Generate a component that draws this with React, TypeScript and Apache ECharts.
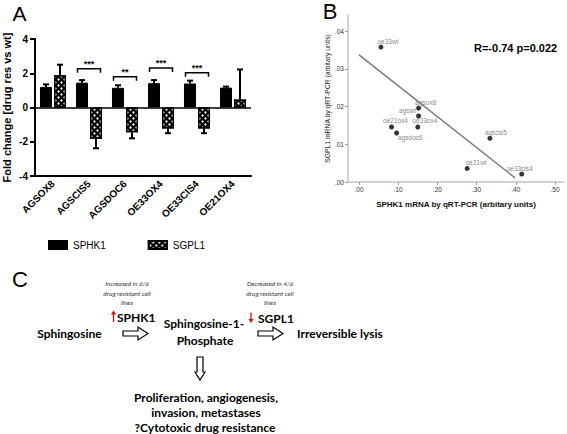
import React, { useEffect, useRef } from 'react';
import * as echarts from 'echarts';

// ---------- Panel A data ----------
const categories = ['AGSOX8', 'AGSCIS5', 'AGSDOC6', 'OE33OX4', 'OE33CIS4', 'OE21OX4'];
const sphk1Values = [1.2, 1.45, 1.15, 1.42, 1.4, 1.16];
const sphk1Errors = [0.15, 0.15, 0.15, 0.18, 0.17, 0.06];
const sgpl1Values = [1.88, -1.82, -1.45, -1.22, -1.22, 0.47];
const sgpl1Errors = [0.62, 0.56, 0.35, 0.28, 0.28, 1.75];
const sigIndex = [1, 2, 3, 4];
const sigLevel = [2.27, 1.8, 2.3, 2.03];
const sigLabel = ['***', '**', '***', '***'];
const yTicksA = [-4, -2, 0, 2, 4];

// ---------- Panel B data ----------
const cellLines = ['oe33wt', 'agsox8', 'agswt', 'oe21ox4', 'oe33ox4', 'agsdoc6', 'agscis5', 'oe21wt', 'oe33cis4'];
const sphk1Mrna = [0.056, 0.152, 0.152, 0.083, 0.15, 0.096, 0.334, 0.276, 0.415];
const sgpl1Mrna = [0.0358, 0.0196, 0.0175, 0.0146, 0.0146, 0.013, 0.0116, 0.0036, 0.0021];
const fitX = [0, 0.398];
const fitY = [0.0337, 0.0011];
const xTicksB = [0, 0.1, 0.2, 0.3, 0.4, 0.5];
const yTicksB = [0, 0.01, 0.02, 0.03, 0.04];
const statText = 'R=-0.74 p=0.022';

// label placement (layout only)
const labelLayout: Record<string, any> = {
  oe33wt: { position: 'top', offset: [7, 0] },
  agsox8: { position: 'top', offset: [7, 0] },
  agswt: { position: 'left', offset: [0, -6] },
  oe21ox4: { position: 'top', offset: [4, 0] },
  oe33ox4: { position: 'top', offset: [7, 0] },
  agsdoc6: { position: 'right', offset: [-1, 5] },
  agscis5: { position: 'top', offset: [6, 0] },
  oe21wt: { position: 'top', offset: [9, 0] },
  oe33cis4: { position: 'top', offset: [-2, 0] },
};

const ARIAL = 'Liberation Sans, Arial, sans-serif';
const CAL = 'Lato, Open Sans, sans-serif';

export default function App() {
  const ref = useRef<HTMLDivElement>(null);
  useEffect(() => {
    if (!ref.current) return;
    const chart = echarts.init(ref.current, undefined, { renderer: 'svg' });

    const errData = (vals: number[], errs: number[], side: number) =>
      vals.map((v, i) => [i, v, errs[i], side]);

    const errorRender = (params: any, api: any) => {
      const i = api.value(0);
      const v = api.value(1);
      const e = api.value(2);
      const side = api.value(3);
      const base = api.coord([i, v]);
      const tip = api.coord([i, v >= 0 ? v + e : v - e]);
      const x = base[0] + side * 7;
      return {
        type: 'group',
        children: [
          { type: 'line', shape: { x1: x, y1: base[1], x2: x, y2: tip[1] }, style: { stroke: '#000', lineWidth: 2 } },
          { type: 'line', shape: { x1: x - 3, y1: tip[1], x2: x + 3, y2: tip[1] }, style: { stroke: '#000', lineWidth: 2 } },
        ],
      };
    };

    const bracketRender = (params: any, api: any) => {
      const i = api.value(0);
      const lv = api.value(1);
      const p = api.coord([i, lv]);
      const x1 = p[0] - 11.5;
      const x2 = p[0] + 11.5;
      return {
        type: 'group',
        children: [
          {
            type: 'polyline',
            shape: { points: [[x1, p[1] + 4], [x1, p[1]], [x2, p[1]], [x2, p[1] + 4]] },
            style: { stroke: '#000', lineWidth: 1.5, fill: 'none' },
          },
          {
            type: 'text',
            x: p[0],
            y: p[1] - 5,
            style: { text: sigLabel[params.dataIndex], fill: '#000', font: `bold 9px ${ARIAL}`, align: 'center', verticalAlign: 'middle' },
          },
        ],
      };
    };

    const scatterData = cellLines.map((n, i) => ({
      name: n,
      value: [sphk1Mrna[i], sgpl1Mrna[i]],
      label: { ...labelLayout[n] },
    }));

    const t = (x: number, y: number, text: string, font: string, extra: any = {}) => ({
      type: 'text',
      x,
      y,
      style: { text, font, fill: '#000', align: 'center', verticalAlign: 'middle', ...extra },
    });

    const hArrow = (x0: number, x1: number, yc: number) => ({
      type: 'polygon',
      shape: {
        points: [
          [x0, yc - 2.5], [x1 - 10, yc - 2.5], [x1 - 10, yc - 6.5], [x1, yc],
          [x1 - 10, yc + 6.5], [x1 - 10, yc + 2.5], [x0, yc + 2.5],
        ],
      },
      style: { fill: '#fff', stroke: '#000', lineWidth: 1.2 },
    });
    const vArrow = (xc: number, y0: number, y1: number) => ({
      type: 'polygon',
      shape: {
        points: [
          [xc - 3, y0], [xc + 3, y0], [xc + 3, y1 - 8], [xc + 5, y1 - 8], [xc, y1],
          [xc - 5, y1 - 8], [xc - 3, y1 - 8],
        ],
      },
      style: { fill: '#fff', stroke: '#000', lineWidth: 1.2 },
    });
    // thin red arrow from (x, yFrom) to (x, yTo), head at yTo
    const redArrow = (x: number, yFrom: number, yTo: number) => {
      const dir = yTo > yFrom ? 1 : -1;
      return {
        type: 'group',
        children: [
          { type: 'line', shape: { x1: x, y1: yFrom, x2: x, y2: yTo - dir * 2 }, style: { stroke: '#e00', lineWidth: 1.3 } },
          {
            type: 'polygon',
            shape: { points: [[x, yTo], [x - 2.5, yTo - dir * 4], [x + 2.5, yTo - dir * 4]] },
            style: { fill: '#e00' },
          },
        ],
      };
    };

    const italic = `italic 6.5px ${CAL}`;
    const boldC = `bold 12px ${CAL}`;

    chart.setOption({
      animation: false,
      backgroundColor: '#fff',
      grid: [
        { left: 33, top: 39, width: 218, height: 137 },
        { left: 348, top: 15, width: 216, height: 167 },
      ],
      legend: {
        left: 43,
        top: 235,
        itemWidth: 18,
        itemHeight: 8,
        itemGap: 42,
        icon: 'rect',
        data: ['SPHK1', 'SGPL1'],
        textStyle: { fontFamily: ARIAL, fontSize: 10, color: '#000', padding: [0, 0, 0, 1] },
      },
      xAxis: [
        {
          type: 'category',
          gridIndex: 0,
          data: categories,
          boundaryGap: true,
          axisLine: { onZero: false, lineStyle: { color: '#000', width: 2 } },
          axisTick: { alignWithLabel: true, length: 4, lineStyle: { color: '#000', width: 2 } },
          axisLabel: { rotate: 45, margin: 6, fontFamily: ARIAL, fontSize: 10, fontWeight: 'bold', color: '#000', interval: 0 },
        },
        {
          type: 'value',
          gridIndex: 1,
          min: -0.028,
          max: 0.523,
          splitLine: { show: false },
          axisLine: { onZero: false, lineStyle: { color: '#c4c4c4', width: 1.5 } },
          axisTick: { customValues: xTicksB, length: 3, lineStyle: { color: '#999' } },
          axisLabel: {
            customValues: xTicksB,
            margin: 4,
            fontFamily: ARIAL,
            fontSize: 6.5,
            color: '#333',
            formatter: (v: number) => v.toFixed(2).replace(/^0/, ''),
          },
          name: 'SPHK1 mRNA by qRT-PCR (arbitary units)',
          nameLocation: 'middle',
          nameGap: 18,
          nameTextStyle: { fontFamily: ARIAL, fontSize: 8, fontWeight: 'bold', color: '#111' },
        },
      ],
      yAxis: [
        {
          type: 'value',
          gridIndex: 0,
          min: -4,
          max: 4,
          interval: 2,
          splitLine: { show: false },
          axisLine: { show: true, lineStyle: { color: '#000', width: 2 } },
          axisTick: { show: true, length: 5, lineStyle: { color: '#000', width: 2 } },
          axisLabel: { margin: 7, fontFamily: ARIAL, fontSize: 10, fontWeight: 'bold', color: '#000', customValues: yTicksA },
          name: 'Fold change [drug res vs wt]',
          nameLocation: 'middle',
          nameGap: 23,
          nameTextStyle: { fontFamily: ARIAL, fontSize: 11, fontWeight: 'bold', color: '#000' },
        },
        {
          type: 'value',
          gridIndex: 1,
          min: 0,
          max: 0.0443,
          splitLine: { show: false },
          axisLine: { show: true, onZero: false, lineStyle: { color: '#c4c4c4', width: 1.5 } },
          axisTick: { show: true, customValues: yTicksB, length: 3, lineStyle: { color: '#999' } },
          axisLabel: {
            customValues: yTicksB,
            margin: 4,
            fontFamily: ARIAL,
            fontSize: 6.5,
            color: '#333',
            formatter: (v: number) => v.toFixed(2).replace(/^0/, ''),
          },
          name: 'SGPL1 mRNA by qRT-PCR (arbitary units)',
          nameLocation: 'middle',
          nameGap: 14,
          nameTextStyle: { fontFamily: ARIAL, fontSize: 6.8, color: '#222' },
        },
      ],
      series: [
        {
          name: 'SPHK1',
          type: 'bar',
          xAxisIndex: 0,
          yAxisIndex: 0,
          data: sphk1Values,
          barWidth: 12,
          barGap: '17%',
          itemStyle: { color: '#000', borderColor: '#000', borderWidth: 1 },
          markLine: {
            silent: true,
            symbol: 'none',
            label: { show: false },
            lineStyle: { color: '#000', width: 1.5, type: 'solid' },
            data: [{ yAxis: 0 }],
          },
        },
        {
          name: 'SGPL1',
          type: 'bar',
          xAxisIndex: 0,
          yAxisIndex: 0,
          data: sgpl1Values,
          barWidth: 12,
          itemStyle: {
            color: '#000',
            borderColor: '#000',
            borderWidth: 1.5,
            decal: {
              symbol: 'circle',
              symbolSize: 0.75,
              color: '#fff',
              dashArrayX: [[3, 3], [0, 3, 3, 0]],
              dashArrayY: [3, 0],
            },
          },
        },
        {
          type: 'custom',
          xAxisIndex: 0,
          yAxisIndex: 0,
          renderItem: errorRender,
          data: errData(sphk1Values, sphk1Errors, -1),
          z: 5,
          silent: true,
        },
        {
          type: 'custom',
          xAxisIndex: 0,
          yAxisIndex: 0,
          renderItem: errorRender,
          data: errData(sgpl1Values, sgpl1Errors, 1),
          z: 5,
          silent: true,
        },
        {
          type: 'custom',
          xAxisIndex: 0,
          yAxisIndex: 0,
          renderItem: bracketRender,
          data: sigIndex.map((c, i) => [c, sigLevel[i]]),
          z: 5,
          silent: true,
        },
        {
          type: 'line',
          xAxisIndex: 1,
          yAxisIndex: 1,
          data: fitX.map((x, i) => [x, fitY[i]]),
          symbol: 'none',
          lineStyle: { color: '#7a7a7a', width: 1.5 },
          silent: true,
        },
        {
          type: 'scatter',
          xAxisIndex: 1,
          yAxisIndex: 1,
          symbolSize: 5,
          itemStyle: { color: '#000' },
          data: scatterData,
          label: {
            show: true,
            formatter: '{b}',
            distance: 0,
            fontFamily: ARIAL,
            fontSize: 6.5,
            color: '#666',
          },
        },
      ],
      graphic: [
        t(19.5, 13, 'A', `21px ${ARIAL}`),
        t(330, 11, 'B', `22px ${ARIAL}`),
        t(20, 279, 'C', `22px ${ARIAL}`),
        t(474, 48, statText, `bold 11px ${ARIAL}`, { align: 'left' }),
        // Panel C
        t(127, 283, 'Increased in 6/6', italic, { fill: '#333' }),
        t(127, 293, 'drug resistant cell', italic, { fill: '#333' }),
        t(127, 302, 'lines', italic, { fill: '#333' }),
        t(270, 283, 'Decreased in 4/6', italic, { fill: '#333' }),
        t(270, 293, 'drug resistant cell', italic, { fill: '#333' }),
        t(270, 302, 'lines', italic, { fill: '#333' }),
        redArrow(113.5, 322, 310.5),
        t(117, 317, 'SPHK1', boldC, { align: 'left' }),
        redArrow(251, 312.5, 323),
        t(258, 318, 'SGPL1', boldC, { align: 'left' }),
        t(69.5, 333, 'Sphingosine', boldC),
        hArrow(123, 148, 333.5),
        t(204, 323, 'Sphingosine-1-', boldC),
        t(205, 340, 'Phosphate', boldC),
        hArrow(258, 283, 333.5),
        t(297, 333, 'Irreversible lysis', boldC, { align: 'left' }),
        vArrow(200, 357, 380),
        t(206, 397, 'Proliferation, angiogenesis,', boldC),
        t(206, 412, 'invasion, metastases', boldC),
        t(205, 427, '?Cytotoxic drug resistance', boldC),
      ],
    });
    return () => chart.dispose();
  }, []);
  return <div ref={ref} style={{ position: 'fixed', left: 0, top: 0, width: 567, height: 434 }} />;
}
